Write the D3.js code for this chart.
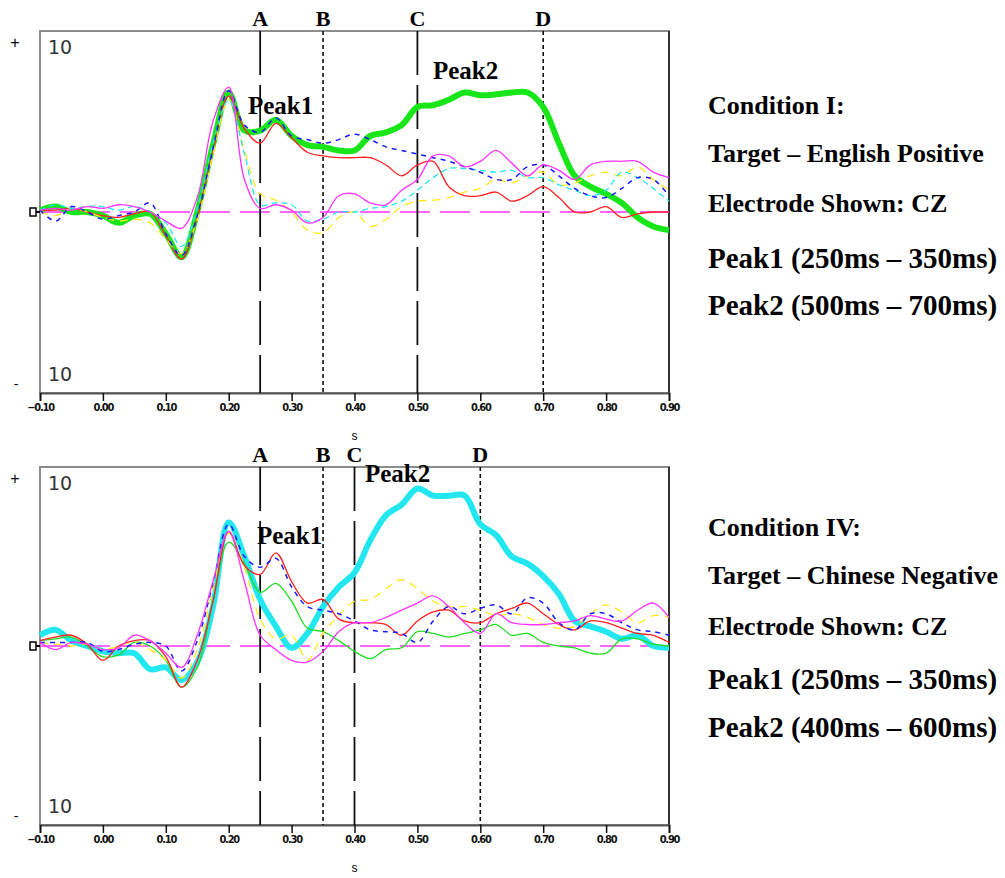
<!DOCTYPE html>
<html>
<head>
<meta charset="utf-8">
<script src="https://cdn.jsdelivr.net/npm/d3@7"></script>
<style>
  body { margin: 0; background: #fff; }
  svg { display: block; }
</style>
</head>
<body>
<div id="chart"></div>
<script>
// sample times (s)
var times = [-0.100, -0.075, -0.050, -0.025, 0.000, 0.025, 0.050, 0.075, 0.100, 0.125,
  0.150, 0.175, 0.200, 0.225, 0.250, 0.275, 0.300, 0.325, 0.350, 0.375,
  0.400, 0.425, 0.450, 0.475, 0.500, 0.525, 0.550, 0.575, 0.600, 0.625,
  0.650, 0.675, 0.700, 0.725, 0.750, 0.775, 0.800, 0.825, 0.850, 0.875, 0.900];

var xTicks = [-0.1, 0, 0.1, 0.2, 0.3, 0.4, 0.5, 0.6, 0.7, 0.8, 0.9];
var markerLabels = ["A", "B", "C", "D"];

// Condition I (top)
var topMarkers = [0.25, 0.35, 0.50, 0.70];
var topGreen = [0.1, 0.3, 0.0, 0.0, -0.2, -0.6, -0.2, -0.1, -1.2, -2.5,
  0.0, 3.7, 6.6, 4.5, 4.5, 5.1, 4.2, 3.7, 3.6, 3.4,
  3.4, 4.2, 4.4, 4.8, 5.8, 5.9, 6.2, 6.6, 6.45, 6.5,
  6.6, 6.6, 5.8, 3.8, 2.0, 1.4, 1.0, 0.5, -0.3, -0.8, -1.0];
var topRed = [0.1, 0.1, 0.2, 0.0, -0.2, -0.3, -0.1, 0.0, -1.3, -2.6,
  -0.3, 3.4, 6.4, 4.6, 3.8, 4.9, 4.1, 3.3, 3.1, 3.0,
  3.0, 3.0, 2.6, 2.0, 2.6, 2.8, 1.4, 0.9, 0.9, 1.1,
  0.6, 0.9, 1.4, 0.8, 0.0, 0.0, 0.3, -0.3, -0.1, 0.0, 0.0];
var topBlue = [0.1, -0.5, 0.3, 0.0, -0.4, -0.2, 0.0, 0.5, -1.2, -2.4,
  -0.2, 3.5, 6.7, 4.8, 4.4, 5.2, 4.2, 4.0, 3.8, 4.0,
  4.3, 4.0, 3.6, 3.4, 3.2, 3.0, 2.8, 2.5, 2.2, 1.8,
  1.8, 2.5, 2.6, 2.0, 1.3, 0.9, 0.8, 1.3, 1.9, 1.8, 0.9];
var topCyan = [0.1, 0.4, 0.2, 0.3, 0.3, 0.1, 0.3, 0.0, -0.6, -1.9,
  0.2, 3.8, 6.2, 3.2, 0.4, 0.5, 0.4, -0.5, -0.4, 0.0,
  0.0, 0.2, 0.3, 0.6, 1.2, 1.9, 2.4, 2.4, 2.3, 2.2,
  2.3, 1.9, 1.9, 1.5, 1.2, 0.9, 1.2, 2.2, 1.9, 1.3, 0.6];
var topYellow = [0.0, -0.2, 0.2, 0.0, -0.3, -0.5, -0.4, -0.6, -1.5, -2.3,
  -0.4, 3.2, 6.2, 3.4, 1.0, 0.65, 0.0, -1.0, -1.15, -0.3,
  0.0, -0.8, -0.4, 0.3, 0.6, 0.65, 0.8, 1.1, 1.3, 1.8,
  1.6, 2.0, 2.2, 1.5, 1.6, 2.0, 2.2, 2.0, 2.5, 1.8, 1.2];
var topMagenta = [0.1, 0.2, 0.1, 0.3, 0.2, 0.4, 0.3, 0.0, -0.5, -0.9,
  0.8, 5.0, 6.9, 1.8, 0.2, 0.4, 0.1, -0.6, -0.3, 0.9,
  1.0, 0.5, 0.4, 1.2, 1.8, 3.1, 3.1, 2.5, 2.8, 3.4,
  2.7, 2.0, 2.6, 2.3, 1.8, 2.6, 2.8, 2.8, 2.8, 2.2, 1.9];
var topNotes = ["Condition I:", "Target \u2013 English Positive", "Electrode Shown: CZ",
  "Peak1 (250ms \u2013 350ms)", "Peak2 (500ms \u2013 700ms)"];

// Condition IV (bottom)
var botMarkers = [0.25, 0.35, 0.40, 0.60];
var botCyan = [0.6, 0.9, 0.3, 0.0, -0.3, -0.4, -0.4, -1.3, -1.2, -1.9,
  -0.9, 2.2, 6.9, 5.0, 2.6, 1.1, -0.1, 0.7, 2.2, 3.3,
  4.1, 5.9, 7.3, 7.9, 8.8, 8.4, 8.4, 8.4, 6.8, 6.2,
  5.0, 4.6, 3.9, 2.9, 1.4, 1.1, 0.8, 0.4, 0.6, 0.0, -0.1];
var botRed = [0.3, 0.5, 0.6, 0.1, -0.8, 0.0, 0.3, 0.3, -0.6, -2.3,
  -0.8, 2.5, 6.4, 4.5, 4.0, 5.2, 3.6, 2.4, 2.6, 1.5,
  1.3, 1.3, 1.2, 0.6, 1.4, 1.9, 2.0, 1.4, 1.3, 1.8,
  2.1, 2.4, 1.8, 1.2, 0.9, 1.4, 1.3, 1.0, 0.7, 0.6, 0.2];
var botBlue = [0.2, 0.2, 0.2, 0.2, -0.3, -0.2, 0.1, 0.2, 0.0, -1.4,
  0.3, 3.5, 6.8, 5.0, 4.4, 4.9, 3.3, 2.2, 2.0, 1.8,
  1.4, 0.9, 0.8, 0.7, 0.2, 1.4, 2.2, 1.8, 2.1, 2.3,
  1.8, 2.7, 2.4, 1.3, 0.9, 1.8, 1.8, 1.3, 0.9, 0.8, 0.6];
var botYellow = [0.2, 0.1, 0.0, 0.1, -0.2, 0.0, 0.2, -0.2, -0.8, -1.8,
  -0.2, 3.2, 6.3, 4.4, 1.5, 0.4, 0.6, -0.8, 0.7, 1.7,
  2.5, 2.6, 3.2, 3.7, 3.2, 2.5, 2.2, 2.2, 2.0, 1.7,
  1.8, 1.6, 1.2, 1.0, 1.1, 1.8, 2.3, 1.9, 1.3, 1.7, 1.6];
var botGreen = [0.3, 0.4, 0.5, 0.0, -0.6, -0.5, 0.2, 0.0, -0.8, -2.3,
  -1.2, 2.5, 5.8, 4.6, 3.0, 3.5, 2.5, 1.0, 0.8, 0.3,
  -0.3, -0.7, -0.2, -0.1, 0.8, 0.7, 0.5, 0.7, 0.9, 1.2,
  0.6, 0.7, 0.2, 0.0, -0.1, -0.4, -0.4, 0.4, 0.4, 0.1, 0.0];
var botMagenta = [0.2, -0.2, 0.2, 0.1, -0.2, -0.1, 0.6, 0.3, -0.4, -1.2,
  0.6, 3.6, 6.4, 3.6, 0.6, -0.2, -0.8, -0.9, -0.3, 0.8,
  1.3, 1.3, 1.6, 2.0, 2.4, 2.8, 2.2, 1.3, 0.7, 1.8,
  1.3, 1.2, 1.2, 1.3, 1.4, 1.7, 1.5, 1.4, 2.0, 2.4, 1.6];
var botNotes = ["Condition IV:", "Target \u2013 Chinese Negative", "Electrode Shown: CZ",
  "Peak1 (250ms \u2013 350ms)", "Peak2 (400ms \u2013 600ms)"];

var W = 1005, H = 878;
var svg = d3.select("#chart").append("svg")
  .attr("width", W)
  .attr("height", H);

var serif = "'Liberation Serif', 'Times New Roman', serif";

var x = d3.scaleLinear().domain([-0.1, 0.9]).range([40, 669]);

function drawPanel(opt) {
  var y = d3.scaleLinear().domain([-10, 10]).range([opt.bottom, opt.top]);
  var g = svg.append("g");

  // frame
  g.append("rect")
    .attr("x", x(-0.1)).attr("y", opt.top)
    .attr("width", x(0.9) - x(-0.1)).attr("height", opt.bottom - opt.top)
    .attr("fill", "none").attr("stroke", "#8c8c8c").attr("stroke-width", 2);
  g.append("line")
    .attr("x1", x(0.9)).attr("x2", x(0.9))
    .attr("y1", opt.top).attr("y2", opt.bottom)
    .attr("stroke", "#333").attr("stroke-width", 2);

  // x axis
  var axis = d3.axisBottom(x)
    .tickValues(xTicks)
    .tickSize(8)
    .tickFormat(d3.format(".2f"));
  var ax = g.append("g")
    .attr("transform", "translate(0," + opt.bottom + ")")
    .call(axis);
  ax.select(".domain").attr("stroke", "#555").attr("stroke-width", 2);
  ax.selectAll(".tick line").attr("stroke", "#111").attr("stroke-width", 1.5);
  ax.selectAll(".tick text")
    .attr("y", 10)
    .attr("font-family", "'DejaVu Sans Condensed', 'Liberation Sans Narrow', Arial, sans-serif")
    .attr("font-size", 11)
    .attr("font-weight", "bold")
    .attr("letter-spacing", -1.2)
    .attr("fill", "#111");

  g.append("text")
    .attr("x", x(0.4)).attr("y", opt.bottom + 47)
    .attr("text-anchor", "middle")
    .attr("font-family", "Arial, sans-serif")
    .attr("font-size", 12)
    .text("s");

  // scale labels
  g.append("text").attr("x", 48).attr("y", opt.top + 23)
    .attr("font-family", "'DejaVu Sans', sans-serif").attr("font-size", 19)
    .attr("fill", "#333").text("10");
  g.append("text").attr("x", 48).attr("y", opt.bottom - 12)
    .attr("font-family", "'DejaVu Sans', sans-serif").attr("font-size", 19)
    .attr("fill", "#333").text("10");
  g.append("text").attr("x", 15).attr("y", opt.top + 17)
    .attr("text-anchor", "middle")
    .attr("font-family", "Arial, sans-serif").attr("font-size", 16).text("+");
  g.append("text").attr("x", 16).attr("y", opt.bottom - 4)
    .attr("text-anchor", "middle")
    .attr("font-family", "Arial, sans-serif").attr("font-size", 14).text("-");

  // zero line
  g.append("line")
    .attr("x1", x(-0.1)).attr("x2", x(0.9))
    .attr("y1", y(0)).attr("y2", y(0))
    .attr("stroke", "#ff33ff").attr("stroke-width", 1.6)
    .attr("stroke-dasharray", "30,10");
  g.append("rect")
    .attr("x", x(-0.1) - 10).attr("y", y(0) - 4)
    .attr("width", 6).attr("height", 8)
    .attr("fill", "#fff").attr("stroke", "#000").attr("stroke-width", 1.5);
  g.append("line")
    .attr("x1", x(-0.1) - 4).attr("x2", x(-0.1))
    .attr("y1", y(0)).attr("y2", y(0))
    .attr("stroke", "#000").attr("stroke-width", 2);

  // markers
  opt.markers.forEach(function (t, i) {
    g.append("line")
      .attr("x1", x(t)).attr("x2", x(t))
      .attr("y1", opt.top).attr("y2", opt.bottom)
      .attr("stroke", "#111")
      .attr("stroke-width", i % 2 === 0 ? 1.8 : 1.6)
      .attr("stroke-dasharray", i % 2 === 0 ? "44,10" : "4,3");
    g.append("text")
      .attr("x", x(t)).attr("y", opt.top - 5)
      .attr("text-anchor", "middle")
      .attr("font-family", serif).attr("font-weight", "bold")
      .attr("font-size", 22)
      .text(markerLabels[i]);
  });

  // curves
  var line = d3.line()
    .x(function (d, i) { return x(times[i]); })
    .y(function (d) { return y(d); })
    .curve(d3.curveCatmullRom.alpha(0.5));

  opt.series.forEach(function (s) {
    g.append("path")
      .datum(s.values)
      .attr("d", line)
      .attr("fill", "none")
      .attr("stroke", s.color)
      .attr("stroke-width", s.width)
      .attr("stroke-linejoin", "round")
      .attr("stroke-dasharray", s.dash || null);
  });

  // peak labels
  opt.peaks.forEach(function (p, i) {
    g.append("text")
      .attr("x", p[0]).attr("y", p[1])
      .attr("font-family", serif).attr("font-weight", "bold")
      .attr("font-size", 25)
      .text("Peak" + (i + 1));
  });

  // notes on the right
  opt.notes.forEach(function (n, i) {
    g.append("text")
      .attr("x", 708).attr("y", opt.noteY[i])
      .attr("font-family", serif).attr("font-weight", "bold")
      .attr("font-size", i < 3 ? 26 : 29)
      .text(n);
  });
}

drawPanel({
  top: 31, bottom: 393,
  markers: topMarkers,
  series: [
    {values: topGreen, color: "#19e619", width: 6},
    {values: topRed, color: "#ff2020", width: 1.3},
    {values: topYellow, color: "#ffe81a", width: 1.3, dash: "8,6"},
    {values: topCyan, color: "#22e6f0", width: 1.3, dash: "6,4"},
    {values: topBlue, color: "#1a1aff", width: 1.5, dash: "5,5"},
    {values: topMagenta, color: "#ff33ff", width: 1.3}
  ],
  peaks: [[248, 114], [433, 79]],
  notes: topNotes,
  noteY: [114, 162, 212, 268, 315]
});

drawPanel({
  top: 467, bottom: 825,
  markers: botMarkers,
  series: [
    {values: botCyan, color: "#22e6f0", width: 6},
    {values: botGreen, color: "#22dd22", width: 1.3},
    {values: botYellow, color: "#ffe81a", width: 1.3, dash: "8,6"},
    {values: botRed, color: "#ff2020", width: 1.3},
    {values: botBlue, color: "#1a1aff", width: 1.5, dash: "5,5"},
    {values: botMagenta, color: "#ff33ff", width: 1.3}
  ],
  peaks: [[257, 544], [365, 482]],
  notes: botNotes,
  noteY: [536, 584, 635, 689, 737]
});
</script>
</body>
</html>
